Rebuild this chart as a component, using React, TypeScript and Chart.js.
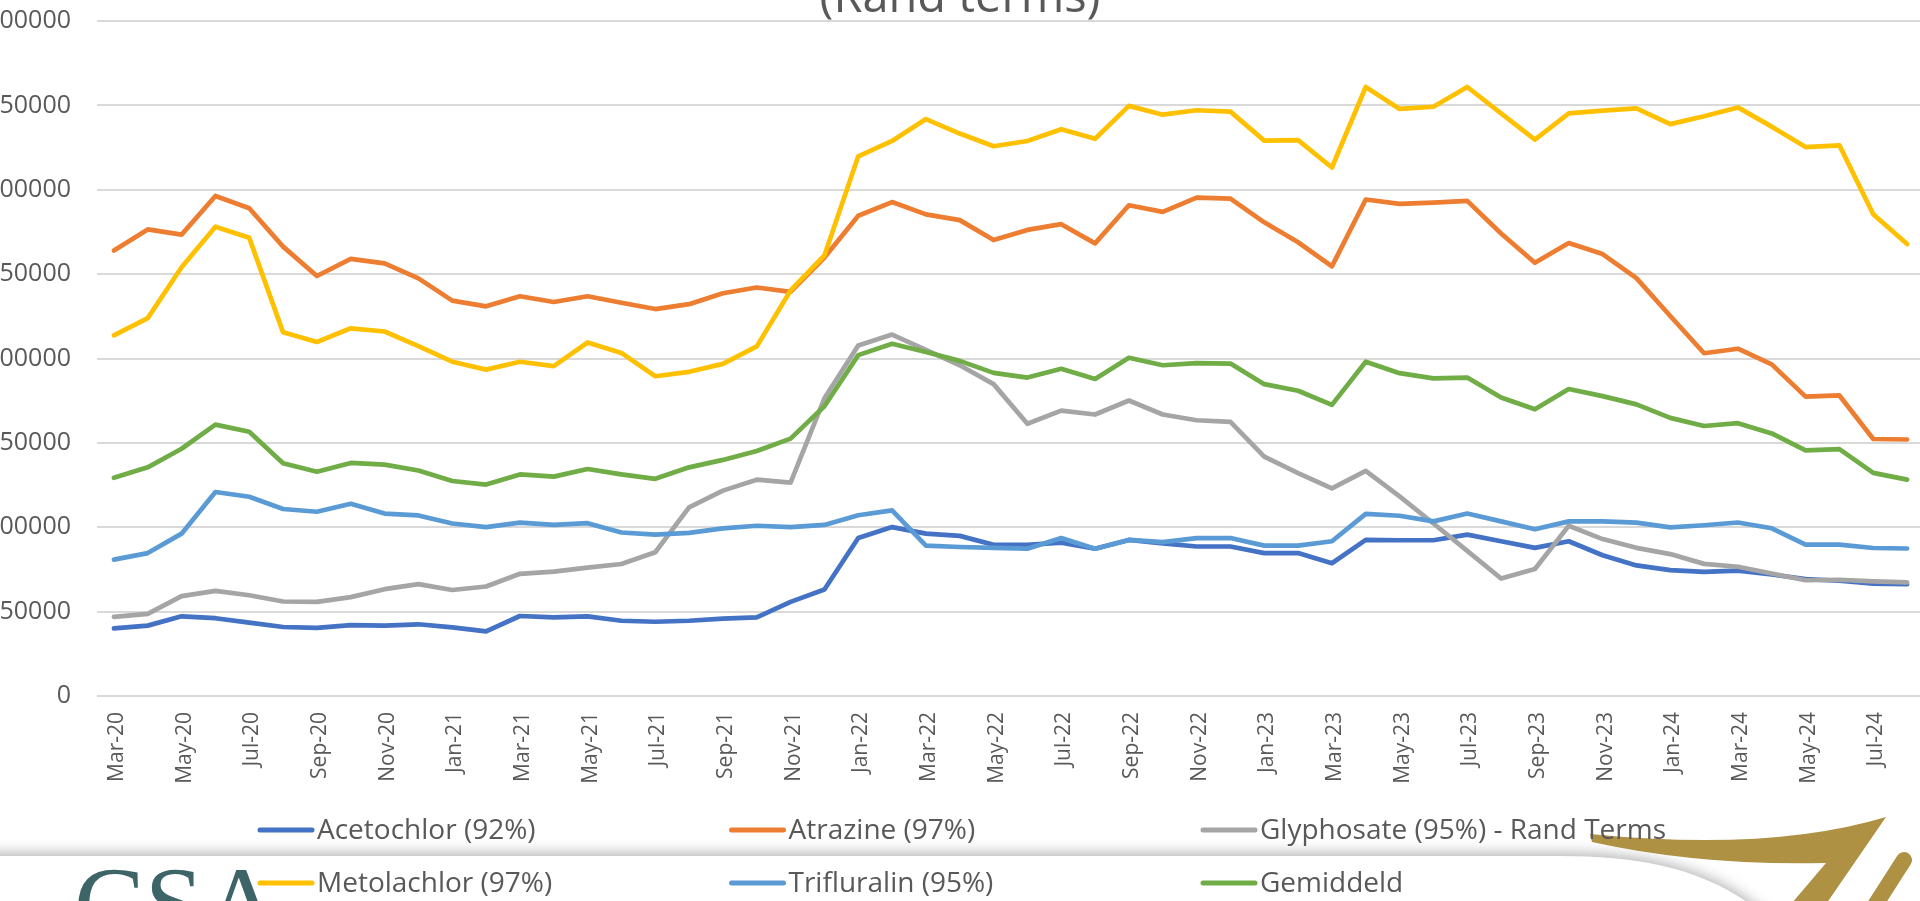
import React, { useEffect, useRef } from 'react';
import { Chart, registerables } from 'chart.js';

Chart.register(...registerables);

const titleText = '(Rand terms)';

const months = [
  'Mar-20', 'Apr-20', 'May-20', 'Jun-20', 'Jul-20', 'Aug-20', 'Sep-20', 'Oct-20', 'Nov-20', 'Dec-20',
  'Jan-21', 'Feb-21', 'Mar-21', 'Apr-21', 'May-21', 'Jun-21', 'Jul-21', 'Aug-21', 'Sep-21', 'Oct-21', 'Nov-21', 'Dec-21',
  'Jan-22', 'Feb-22', 'Mar-22', 'Apr-22', 'May-22', 'Jun-22', 'Jul-22', 'Aug-22', 'Sep-22', 'Oct-22', 'Nov-22', 'Dec-22',
  'Jan-23', 'Feb-23', 'Mar-23', 'Apr-23', 'May-23', 'Jun-23', 'Jul-23', 'Aug-23', 'Sep-23', 'Oct-23', 'Nov-23', 'Dec-23',
  'Jan-24', 'Feb-24', 'Mar-24', 'Apr-24', 'May-24', 'Jun-24', 'Jul-24', 'Aug-24',
];

const acetochlor = [
  40100, 41700, 47200, 46100, 43500, 40900, 40400, 42000, 41700, 42500,
  40700, 38300, 47400, 46600, 47200, 44600, 44000, 44600, 45900, 46600, 55800, 63100,
  93600, 100100, 96200, 94900, 89600, 89600, 90900, 87300, 92500, 90400, 88600, 88600,
  84700, 84700, 78700, 92500, 92300, 92300, 95600, 91700, 87800, 91700, 83400, 77400,
  74600, 73600, 74300, 72000, 69300, 68300, 66600, 66300,
];

const atrazine = [
  264000, 276500, 273400, 296300, 289000, 266300, 248900, 259000, 256400, 247500,
  234300, 230900, 236900, 233500, 236900, 233000, 229300, 232200, 238700, 242100, 239500, 259800,
  284600, 292700, 285400, 282000, 270200, 276200, 279600, 268200, 290800, 286900, 295300, 294700,
  280700, 268900, 254600, 294200, 291600, 292400, 293400, 274100, 256700, 268400, 261900, 247600,
  225200, 203100, 205800, 196500, 177400, 178100, 152300, 152000,
];

const glyphosate = [
  46900, 48700, 59200, 62300, 59700, 56000, 55800, 58600, 63300, 66300,
  62800, 64900, 72400, 73700, 76100, 78200, 85200, 111800, 121700, 128200, 126400, 176400,
  207700, 214200, 205100, 196000, 184800, 161300, 169100, 166800, 175100, 166800, 163400, 162400,
  141800, 132100, 123000, 133400, 118300, 102200, 86000, 69600, 75300, 100900, 93000, 87800,
  84100, 78300, 76600, 72600, 68600, 68900, 67900, 67300,
];

const metolachlor = [
  213700, 223900, 254100, 278100, 271500, 215500, 209800, 217900, 216000, 207300,
  198100, 193400, 198100, 195500, 209500, 203300, 189500, 192100, 196800, 207200, 240300, 261100,
  319800, 328900, 341900, 333300, 325800, 328900, 335900, 330200, 349700, 344500, 347100, 346300,
  329100, 329400, 313200, 360900, 347900, 349200, 360900, 345300, 329700, 345300, 346900, 348200,
  338900, 343600, 348800, 337400, 325300, 326300, 285500, 267800,
];

const trifluralin = [
  80800, 84700, 96200, 120900, 118100, 110800, 109200, 113900, 108100, 107000,
  102200, 100100, 102700, 101400, 102400, 96900, 95600, 96700, 99300, 100900, 100100, 101400,
  107100, 110000, 89100, 88300, 87800, 87300, 93600, 87300, 92500, 91200, 93600, 93600,
  89100, 89100, 91700, 107900, 106800, 103500, 108100, 103500, 98800, 103500, 103500, 102700,
  99900, 101200, 102800, 99400, 89700, 89700, 87700, 87400,
];

const gemiddeld = [
  129300, 135500, 146500, 160800, 156600, 137900, 132900, 138100, 137100, 133600,
  127400, 125300, 131300, 130000, 134500, 131300, 128700, 135500, 139900, 145200, 152500, 171700,
  202000, 208700, 203800, 198600, 191500, 188700, 193900, 187900, 200400, 196000, 197300, 197000,
  184800, 180900, 172500, 198100, 191300, 188200, 188700, 176900, 169900, 181900, 177700, 172800,
  164800, 160000, 161700, 155600, 145600, 146300, 132200, 128200,
];

const seriesNames = [
  'Acetochlor (92%)',
  'Atrazine (97%)',
  'Glyphosate (95%) - Rand Terms',
  'Metolachlor (97%)',
  'Trifluralin (95%)',
  'Gemiddeld',
];
const seriesColors = ['#4472C4', '#ED7D31', '#A5A5A5', '#FFC000', '#5B9BD5', '#70AD47'];
const seriesValues = [acetochlor, atrazine, glyphosate, metolachlor, trifluralin, gemiddeld];

const yTicks = [0, 50000, 100000, 150000, 200000, 250000, 300000, 350000, 400000];

// canvas is shifted left so that the y labels are clipped like the reference
const OFFX = 33;
const CANVAS_W = 1977;
const CANVAS_H = 901;
const TEXT = '#595959';
const FONT = "'Open Sans', 'DejaVu Sans', sans-serif";

const decorPlugin = {
  id: 'decor',
  beforeDraw(chart: any) {
    const ctx = chart.ctx as CanvasRenderingContext2D;
    const sx = (x: number) => x + OFFX;
    ctx.save();
    // lower slide panel with upward shadow
    ctx.shadowColor = 'rgba(0,0,0,0.30)';
    ctx.shadowBlur = 14;
    ctx.shadowOffsetY = -3;
    ctx.fillStyle = '#ffffff';
    ctx.beginPath();
    ctx.moveTo(-60, 856);
    ctx.lineTo(sx(1560), 856);
    ctx.bezierCurveTo(sx(1650), 856, sx(1720), 872, sx(1775), 925);
    ctx.lineTo(-60, 925);
    ctx.closePath();
    ctx.fill();
    ctx.restore();

    ctx.save();
    // logo letters
    ctx.fillStyle = '#3D6466';
    ctx.font = "106px 'Liberation Serif', 'DejaVu Serif', serif";
    ctx.textBaseline = 'alphabetic';
    ctx.textAlign = 'left';
    ctx.fillText('CSA', sx(74), 940);

    // gold swoosh
    ctx.fillStyle = '#AE9142';
    ctx.beginPath();
    ctx.moveTo(sx(1590), 834);
    ctx.quadraticCurveTo(sx(1770), 852, sx(1886), 817);
    ctx.lineTo(sx(1822), 910);
    ctx.lineTo(sx(1786), 910);
    ctx.lineTo(sx(1826), 863);
    ctx.quadraticCurveTo(sx(1700), 866, sx(1592), 842);
    ctx.closePath();
    ctx.fill();
    ctx.strokeStyle = '#AE9142';
    ctx.lineWidth = 16;
    ctx.lineCap = 'round';
    ctx.beginPath();
    ctx.moveTo(sx(1904), 860);
    ctx.lineTo(sx(1872), 910);
    ctx.stroke();
    ctx.restore();
  },
  afterDraw(chart: any) {
    const ctx = chart.ctx as CanvasRenderingContext2D;
    const sx = (x: number) => x + OFFX;
    ctx.save();
    // title (upper part falls outside the picture)
    ctx.fillStyle = TEXT;
    ctx.font = `47px ${FONT}`;
    ctx.textAlign = 'center';
    ctx.textBaseline = 'alphabetic';
    ctx.fillText(titleText, sx(960), 12);

    // legend, 3 columns x 2 rows
    ctx.font = `28px ${FONT}`;
    ctx.textAlign = 'left';
    ctx.textBaseline = 'middle';
    chart.data.datasets.forEach((ds: any, i: number) => {
      const col = i % 3;
      const row = Math.floor(i / 3);
      const x0 = sx(260 + col * 471.5);
      const y = 830 + row * 53;
      ctx.strokeStyle = ds.borderColor;
      ctx.lineWidth = 5;
      ctx.lineCap = 'round';
      ctx.beginPath();
      ctx.moveTo(x0, y);
      ctx.lineTo(x0 + 52, y);
      ctx.stroke();
      ctx.fillStyle = TEXT;
      ctx.fillText(ds.label, x0 + 57, y + 1);
    });
    ctx.restore();
  },
};

export default function App() {
  const canvasRef = useRef<HTMLCanvasElement | null>(null);

  useEffect(() => {
    const canvas = canvasRef.current;
    if (!canvas) return;
    const datasets = seriesNames.map((name, i) => ({
      label: name,
      data: seriesValues[i],
      borderColor: seriesColors[i],
      backgroundColor: seriesColors[i],
      borderWidth: 4.7,
      borderCapStyle: 'round' as const,
      borderJoinStyle: 'round' as const,
      pointRadius: 0,
      pointHoverRadius: 0,
      tension: 0,
      fill: false,
      order: seriesNames.length - i,
    }));

    const chart = new Chart(canvas, {
      type: 'line',
      data: { labels: months, datasets },
      plugins: [decorPlugin],
      options: {
        responsive: false,
        animation: false,
        devicePixelRatio: 1,
        layout: { padding: { left: 0, right: 20, top: 21, bottom: 105 } },
        plugins: {
          legend: { display: false },
          title: { display: false },
          tooltip: { enabled: false },
        },
        scales: {
          x: {
            type: 'category',
            offset: true,
            grid: { display: false, drawTicks: false },
            border: { display: false },
            ticks: {
              autoSkip: false,
              minRotation: 90,
              maxRotation: 90,
              padding: 16,
              labelOffset: 3,
              color: TEXT,
              font: { family: FONT, size: 21 },
              callback: (_v: any, idx: number) => (idx % 2 === 0 ? months[idx] : ''),
            },
            afterFit: (scale: any) => {
              scale.height = 100;
              scale.paddingLeft = 0;
              scale.paddingRight = 0;
            },
          },
          y: {
            min: 0,
            max: 400000,
            afterBuildTicks: (scale: any) => {
              scale.ticks = yTicks.map((v) => ({ value: v }));
            },
            grid: { color: '#D9D9D9', lineWidth: 2, drawTicks: false },
            border: { display: false },
            ticks: {
              padding: 26,
              color: TEXT,
              font: { family: FONT, size: 25 },
              callback: (v: any) => String(v),
            },
            afterFit: (scale: any) => {
              scale.width = 130;
              scale.paddingTop = 0;
              scale.paddingBottom = 0;
            },
          },
        },
      },
    });
    return () => chart.destroy();
  }, []);

  return (
    <div
      style={{
        position: 'fixed',
        left: 0,
        top: 0,
        width: 1920,
        height: 901,
        overflow: 'hidden',
        background: '#ffffff',
      }}
    >
      <canvas
        ref={canvasRef}
        width={CANVAS_W}
        height={CANVAS_H}
        style={{ position: 'absolute', left: -OFFX, top: 0, width: CANVAS_W, height: CANVAS_H }}
      />
    </div>
  );
}
